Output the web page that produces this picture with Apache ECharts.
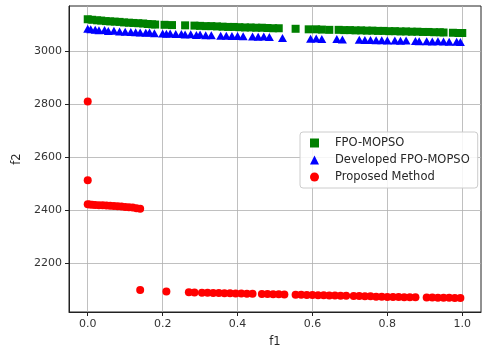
<!DOCTYPE html>
<html>
<head>
<meta charset="utf-8">
<script src="https://cdn.jsdelivr.net/npm/echarts@6/dist/echarts.min.js"></script>
<style>
  html, body { margin: 0; padding: 0; background: #fff; }
  #chart { width: 482px; height: 349px; }
</style>
</head>
<body>
<div id="chart"></div>
<script>
// tick labels
const xTicks = [0, 0.2, 0.4, 0.6, 0.8, 1.0];
const yTicks = [2200, 2400, 2600, 2800, 3000];

// FPO-MOPSO
const fpoX = [0.00, 0.012, 0.025, 0.036, 0.048, 0.06, 0.072, 0.085, 0.097, 0.11, 0.122, 0.135, 0.148, 0.16, 0.172, 0.18,
  0.205, 0.225, 0.26,
  0.285, 0.30, 0.315, 0.33, 0.345, 0.36, 0.375, 0.39, 0.405, 0.42, 0.435, 0.45, 0.465, 0.48, 0.495, 0.51,
  0.555, 0.59, 0.61, 0.625, 0.645,
  0.67, 0.685, 0.70, 0.715, 0.73, 0.745, 0.76, 0.775, 0.79, 0.805, 0.82, 0.835, 0.85, 0.865, 0.88, 0.895, 0.91, 0.925, 0.94, 0.95,
  0.975, 0.99, 1.0];
const fpoY = [3120, 3118, 3116, 3115, 3113, 3112, 3111, 3110, 3108, 3107, 3106, 3105, 3104, 3102, 3101, 3100,
  3099, 3098, 3097,
  3096, 3095, 3094, 3094, 3093, 3092, 3091, 3091, 3090, 3089, 3089, 3088, 3088, 3087, 3086, 3086,
  3084, 3082, 3082, 3081, 3080,
  3080, 3079, 3079, 3078, 3078, 3077, 3077, 3076, 3076, 3075, 3075, 3074, 3074, 3073, 3073, 3072, 3072, 3071, 3071, 3070,
  3069, 3068, 3068];

// Developed FPO-MOPSO
const devX = [0.0, 0.008, 0.02, 0.03, 0.045, 0.055, 0.07, 0.085, 0.10, 0.115, 0.128, 0.14, 0.155, 0.165, 0.178,
  0.20, 0.21, 0.22, 0.235, 0.25, 0.26, 0.275, 0.29, 0.30, 0.315, 0.33,
  0.355, 0.37, 0.385, 0.40, 0.415,
  0.44, 0.455, 0.47, 0.485,
  0.52,
  0.595, 0.61, 0.625,
  0.665, 0.68,
  0.725, 0.74, 0.755, 0.77, 0.785, 0.80, 0.82, 0.835, 0.85,
  0.875, 0.885,
  0.905, 0.92, 0.935, 0.95, 0.965,
  0.985, 0.995];
const devY = [3084, 3082, 3080, 3078, 3079, 3076, 3077, 3074, 3073, 3072, 3071, 3070, 3069, 3070, 3067,
  3066, 3065, 3066, 3064, 3064, 3062, 3063, 3061, 3062, 3060, 3060,
  3058, 3058, 3057, 3057, 3056,
  3055, 3054, 3055, 3053,
  3049,
  3046, 3047, 3045,
  3045, 3044,
  3043, 3042, 3042, 3041, 3041, 3040, 3040, 3039, 3040,
  3038, 3037,
  3037, 3036, 3037, 3036, 3035,
  3035, 3034];

// Proposed Method
const propX = [0.0, 0.0,
  0.0, 0.005, 0.012, 0.02, 0.03, 0.04, 0.05, 0.06, 0.07, 0.08, 0.09, 0.10, 0.11, 0.12, 0.13, 0.14,
  0.14, 0.21,
  0.27, 0.285,
  0.305, 0.32, 0.335, 0.35, 0.365, 0.38, 0.395, 0.41, 0.425, 0.44,
  0.465, 0.48, 0.495, 0.51, 0.525,
  0.555, 0.57, 0.585, 0.60, 0.615, 0.63, 0.645, 0.66, 0.675, 0.69,
  0.71, 0.725, 0.74, 0.755, 0.77, 0.785, 0.80, 0.815, 0.83, 0.845, 0.86, 0.875,
  0.905, 0.92, 0.935, 0.95, 0.965, 0.98, 0.995];
const propY = [2810, 2512,
  2422, 2421, 2420, 2419, 2418, 2418, 2417, 2416, 2415, 2414, 2413, 2411, 2410, 2409, 2407, 2405,
  2098, 2092,
  2090, 2089,
  2088, 2088, 2087, 2087, 2086, 2086, 2085, 2085, 2084, 2084,
  2083, 2083, 2082, 2082, 2081,
  2080, 2080, 2079, 2079, 2078, 2078, 2077, 2077, 2076, 2076,
  2075, 2075, 2074, 2074, 2073, 2073, 2072, 2072, 2072, 2071, 2071, 2071,
  2070, 2070, 2069, 2069, 2069, 2068, 2068];

const zip = (xs, ys) => xs.map((x, i) => [x, ys[i]]);
const font = 'DejaVu Sans';

let chart = echarts.init(document.getElementById('chart'));
let option = {
  animation: false,
  backgroundColor: '#fff',
  grid: {
    left: 69, right: 1, top: 6, bottom: 37,
    outerBoundsMode: 'none',
    containLabel: false,
    show: true, borderColor: '#222', borderWidth: 1
  },
  legend: {
    orient: 'vertical',
    left: 300, top: 132,
    padding: [5, 8, 5, 10],
    itemGap: 5,
    itemWidth: 9,
    itemHeight: 9,
    backgroundColor: 'rgba(255,255,255,0.85)',
    borderColor: '#ccc',
    borderWidth: 1,
    borderRadius: 3,
    textStyle: { fontFamily: font, fontSize: 11.5, color: '#262626', padding: [0, 0, 0, 11] },
    data: [
      { name: 'FPO-MOPSO', icon: 'rect' },
      { name: 'Developed FPO-MOPSO', icon: 'triangle' },
      { name: 'Proposed Method', icon: 'circle' }
    ]
  },
  xAxis: {
    type: 'value',
    min: -0.05, max: 1.05,
    name: 'f1', nameLocation: 'middle', nameGap: 24,
    nameTextStyle: { fontFamily: font, fontSize: 11.5, color: '#262626' },
    axisLine: { show: true, onZero: false, lineStyle: { color: '#222' } },
    axisTick: { show: true, length: 4, customValues: xTicks, lineStyle: { color: '#222' } },
    axisLabel: {
      customValues: xTicks, fontFamily: font, fontSize: 11, color: '#333', margin: 7,
      formatter: v => v.toFixed(1)
    },
    splitLine: { show: true, lineStyle: { color: '#b0b0b0', width: 0.8 } }
  },
  yAxis: {
    type: 'value',
    min: 2015, max: 3170,
    name: 'f2', nameLocation: 'middle', nameGap: 46,
    nameTextStyle: { fontFamily: font, fontSize: 11.5, color: '#262626' },
    axisLine: { show: true, onZero: false, lineStyle: { color: '#222' } },
    axisTick: { show: true, length: 4, customValues: yTicks, lineStyle: { color: '#222' } },
    axisLabel: {
      customValues: yTicks, fontFamily: font, fontSize: 11, color: '#333', margin: 7,
      formatter: v => String(v)
    },
    splitLine: { show: true, lineStyle: { color: '#b0b0b0', width: 0.8 } }
  },
  series: [
    {
      name: 'FPO-MOPSO', type: 'scatter', symbol: 'rect', symbolSize: 8,
      itemStyle: { color: '#008000', opacity: 1 },
      data: zip(fpoX, fpoY)
    },
    {
      name: 'Developed FPO-MOPSO', type: 'scatter', symbol: 'triangle', symbolSize: [9, 8],
      itemStyle: { color: '#0000ff', opacity: 1 },
      data: zip(devX, devY)
    },
    {
      name: 'Proposed Method', type: 'scatter', symbol: 'circle', symbolSize: 8,
      itemStyle: { color: '#ff0000', opacity: 1 },
      data: zip(propX, propY)
    }
  ]
};
chart.setOption(option);
</script>
</body>
</html>
